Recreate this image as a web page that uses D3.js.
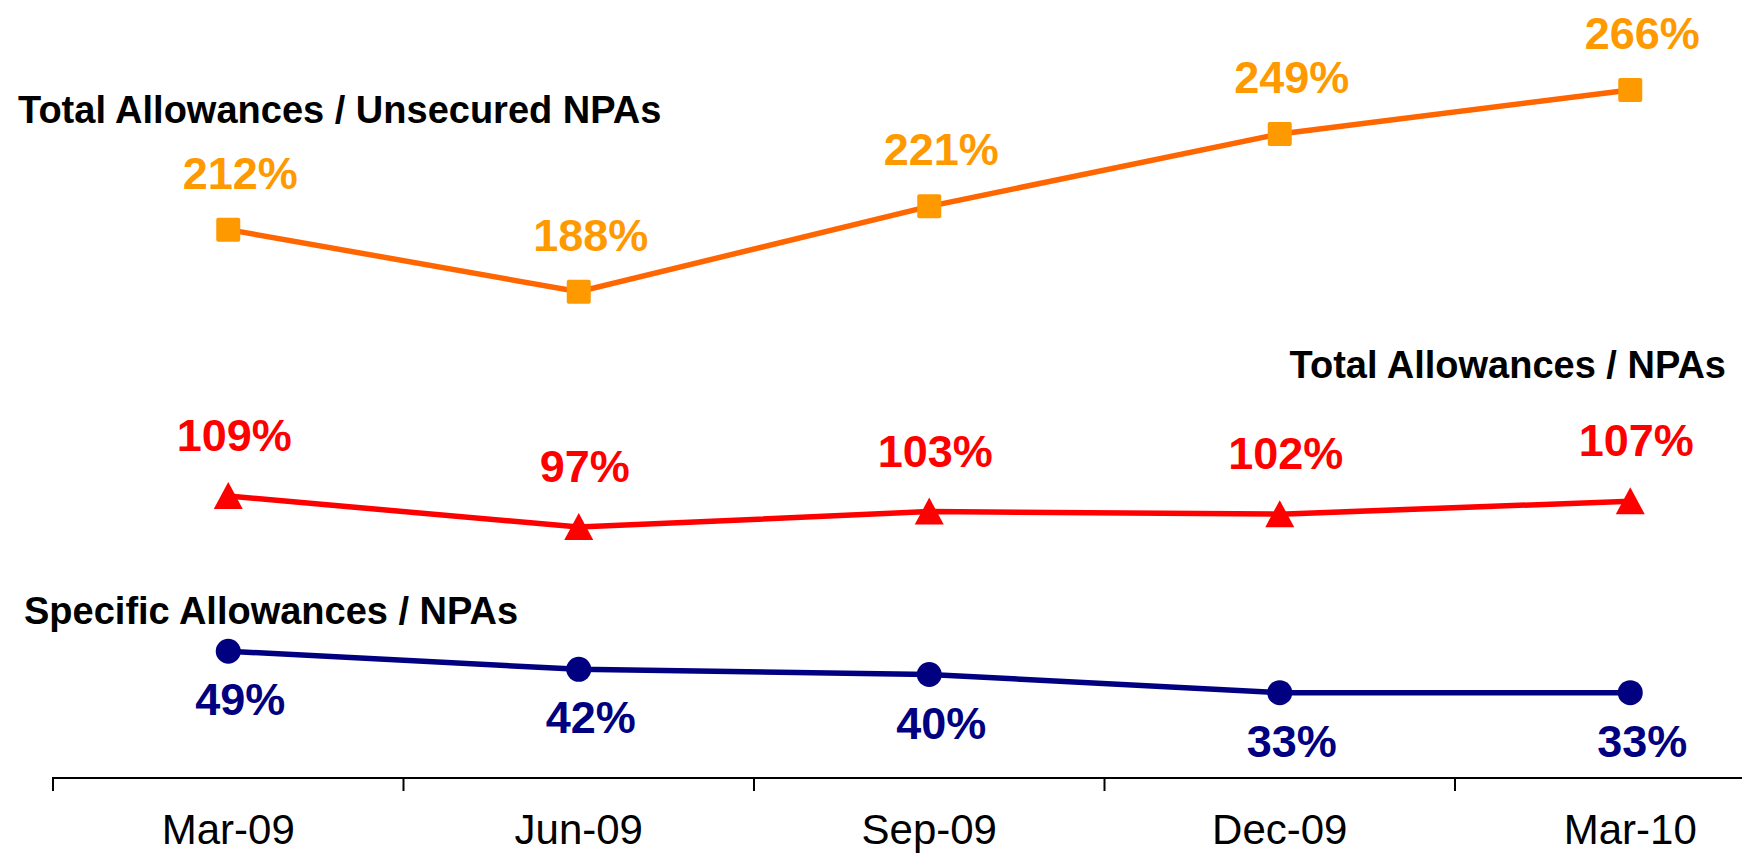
<!DOCTYPE html>
<html>
<head>
<meta charset="utf-8">
<script src="https://cdn.jsdelivr.net/npm/d3@7"></script>
<style>
    body { margin: 0; background: #fff; }
    text { font-family: "Liberation Sans", Arial, sans-serif; }
</style>
</head>
<body>
<svg id="chart" width="1742" height="853"></svg>
<script>
const periods = ["Mar-09", "Jun-09", "Sep-09", "Dec-09", "Mar-10"];
const unsecuredRatio = [212, 188, 221, 249, 266];
const totalRatio = [109, 97, 103, 102, 107];
const specificRatio = [49, 42, 40, 33, 33];
const seriesNames = ["Total Allowances / Unsecured NPAs", "Total Allowances / NPAs", "Specific Allowances / NPAs"];

const width = 1742;
const height = 853;
const axisY = 778;

const svg = d3.select("#chart");

const x = d3.scaleBand()
    .domain(periods)
    .range([53, 53 + periods.length * 350.5])
    .padding(0);

const y = d3.scaleLinear()
    .domain([0, 300])
    .range([axisY, 2]);

const cx = (d) => x(d) + x.bandwidth() / 2;

// shapes for the three series
const square = (g, px, py, color) => g.append("rect")
    .attr("x", px - 12).attr("y", py - 12)
    .attr("width", 24).attr("height", 24)
    .attr("rx", 2)
    .attr("fill", color);

const triangle = (g, px, py, color) => g.append("path")
    .attr("d", `M${px},${py - 14} L${px + 14.5},${py + 13} L${px - 14.5},${py + 13} Z`)
    .attr("fill", color);

const circle = (g, px, py, color) => g.append("circle")
    .attr("cx", px).attr("cy", py)
    .attr("r", 12.5)
    .attr("fill", color);

const series = [
    { values: unsecuredRatio, line: "#FF6600", marker: "#FF9900", label: "#FF9900", shape: square, dx: 12, dy: -41 },
    { values: totalRatio, line: "#FF0000", marker: "#FF0000", label: "#FF0000", shape: triangle, dx: 6, dy: -45 },
    { values: specificRatio, line: "#000080", marker: "#000080", label: "#000080", shape: circle, dx: 12, dy: 64 }
];

// axis
const axis = svg.append("g");
axis.append("line")
    .attr("x1", x(periods[0]) - 1).attr("x2", width)
    .attr("y1", axisY).attr("y2", axisY)
    .attr("stroke", "#000")
    .attr("stroke-width", 2);

axis.selectAll(".tick")
    .data(periods)
    .join("line")
    .attr("class", "tick")
    .attr("x1", (d) => x(d)).attr("x2", (d) => x(d))
    .attr("y1", axisY).attr("y2", axisY + 13)
    .attr("stroke", "#000")
    .attr("stroke-width", 2);

axis.selectAll(".tick-label")
    .data(periods)
    .join("text")
    .attr("class", "tick-label")
    .attr("x", (d) => cx(d))
    .attr("y", 844)
    .attr("text-anchor", "middle")
    .attr("font-size", 42)
    .attr("fill", "#000")
    .text((d) => d);

const line = d3.line()
    .x((d) => cx(d.period))
    .y((d) => y(d.value));

series.forEach((s) => {
    const pts = periods.map((p, i) => ({ period: p, value: s.values[i] }));
    const g = svg.append("g");
    g.append("path")
        .attr("d", line(pts))
        .attr("fill", "none")
        .attr("stroke", s.line)
        .attr("stroke-width", 5.5);
    pts.forEach((d) => s.shape(g, cx(d.period), y(d.value), s.marker));
    g.selectAll("text")
        .data(pts)
        .join("text")
        .attr("x", (d) => cx(d.period) + s.dx)
        .attr("y", (d) => y(d.value) + s.dy)
        .attr("text-anchor", "middle")
        .attr("font-size", 45)
        .attr("font-weight", "bold")
        .attr("fill", s.label)
        .text((d) => d.value + "%");
});

// series names
const names = svg.append("g")
    .attr("font-size", 38)
    .attr("font-weight", "bold")
    .attr("fill", "#000");
names.append("text").attr("x", 18).attr("y", 123).text(seriesNames[0]);
names.append("text").attr("x", 1726).attr("y", 378).attr("text-anchor", "end").text(seriesNames[1]);
names.append("text").attr("x", 24).attr("y", 624).text(seriesNames[2]);
</script>
</body>
</html>
